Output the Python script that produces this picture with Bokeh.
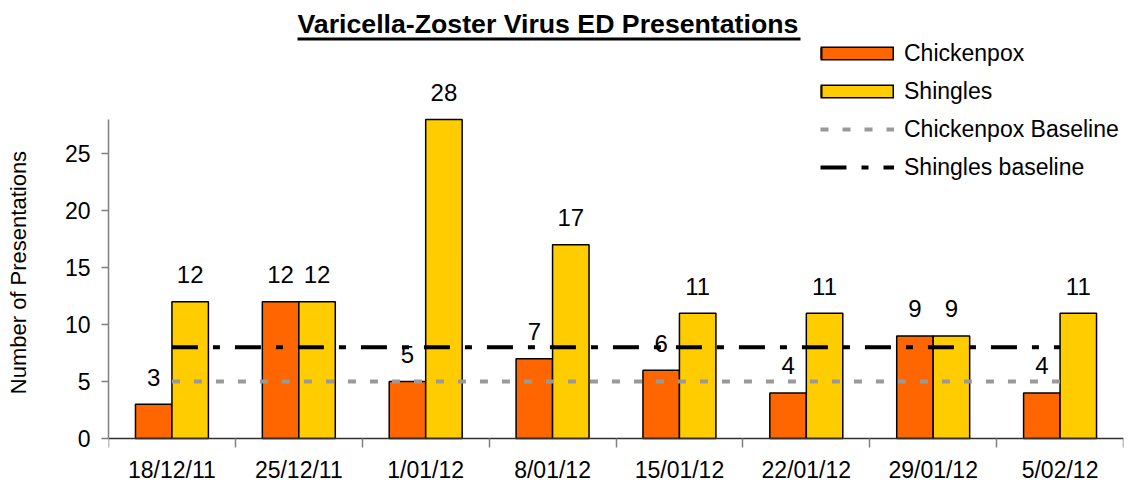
from bokeh.plotting import figure
from bokeh.models import (ColumnDataSource, Range1d, FixedTicker, LabelSet, Label,
                          BoxAnnotation, Legend, LegendItem)
from bokeh.core.properties import value
from bokeh.transform import dodge
from bokeh.embed import file_html
from bokeh.resources import INLINE

# ---- data ----
weeks = ["18/12/11", "25/12/11", "1/01/12", "8/01/12", "15/01/12", "22/01/12", "29/01/12", "5/02/12"]
chickenpox = [3, 12, 5, 7, 6, 4, 9, 4]
shingles = [12, 12, 28, 17, 11, 11, 9, 11]
chickenpox_baseline = 5
shingles_baseline = 8
y_ticks = [0, 5, 10, 15, 20, 25]
y_axis_max = 28

FONT = "Liberation Sans"
ORANGE = "#FF6600"
YELLOW = "#FFCC00"

W, H = 1136, 483
centers = [i + 0.5 for i in range(len(weeks))]
src = ColumnDataSource(dict(
    x=centers,
    cp=chickenpox,
    sh=shingles,
    cp_txt=[str(v) for v in chickenpox],
    sh_txt=[str(v) for v in shingles],
))
base_src = ColumnDataSource(dict(
    x=[centers[0], centers[-1]],
    cpb=[chickenpox_baseline] * 2,
    shb=[shingles_baseline] * 2,
))

# the frame fills the canvas height; the x axis sits at y=0 and the y axis is bounded 0..28
p = figure(width=W, height=H, output_backend="svg", toolbar_location=None,
           x_range=Range1d(0, len(weeks)), y_range=Range1d(-3.95, 38.44),
           min_border_left=108, min_border_right=13, min_border_top=0,
           min_border_bottom=0)
p.outline_line_color = None
p.xgrid.visible = False
p.ygrid.visible = False
p.background_fill_color = "white"
p.border_fill_color = "white"

BW = 0.2875
r_cp = p.vbar(x=dodge("x", -BW / 2, range=p.x_range), top="cp", width=BW, source=src,
              fill_color=ORANGE, line_color="black", line_width=1.5)
r_sh = p.vbar(x=dodge("x", BW / 2, range=p.x_range), top="sh", width=BW, source=src,
              fill_color=YELLOW, line_color="black", line_width=1.5)

r_cpb = p.line("x", "cpb", source=base_src, line_color="#999999", line_width=4,
               line_dash="8 14")
r_shb = p.line("x", "shb", source=base_src, line_color="black", line_width=4,
               line_dash="26 15 7 15")

# data labels
for col, off in (("cp", -BW / 2), ("sh", BW / 2)):
    ls = LabelSet(x=dodge("x", off, range=p.x_range), y=col, text=col + "_txt", source=src,
                  y_offset=27, text_align="center", text_baseline="middle",
                  text_font=value(FONT), text_font_size=value("24px"),
                  text_color=value("black"))
    p.add_layout(ls)

# axes
p.xaxis.fixed_location = 0
p.xaxis.ticker = FixedTicker(ticks=centers, minor_ticks=list(range(len(weeks) + 1)))
p.xaxis.major_label_overrides = {c: w for c, w in zip(centers, weeks)}
p.xaxis.major_tick_out = 0
p.xaxis.major_tick_in = 0
p.xaxis.minor_tick_out = 9
p.xaxis.minor_tick_in = 0
p.xaxis.minor_tick_line_color = "#808080"
p.xaxis.minor_tick_line_width = 1.5
p.xaxis.axis_line_color = "#303030"
p.xaxis.axis_line_width = 1.5
p.xaxis.major_label_standoff = 10
p.xaxis.major_label_text_font = FONT
p.xaxis.major_label_text_font_size = "23px"
p.xaxis.major_label_text_color = "black"

p.yaxis.bounds = (0, y_axis_max)
p.yaxis.ticker = FixedTicker(ticks=y_ticks)
p.yaxis.minor_tick_line_color = None
p.yaxis.major_tick_out = 7
p.yaxis.major_tick_in = 0
p.yaxis.major_tick_line_color = "#808080"
p.yaxis.major_tick_line_width = 1.5
p.yaxis.axis_line_color = "#808080"
p.yaxis.axis_line_width = 1.5
p.yaxis.major_label_standoff = 11
p.yaxis.major_label_text_font = FONT
p.yaxis.major_label_text_font_size = "23px"
p.yaxis.major_label_text_color = "black"
# trailing no-break spaces move the visible words down to sit beside the 0..28 axis
p.yaxis.axis_label = "Number of Presentations" + "\u00a0" * 10
p.yaxis.axis_label_text_font = FONT
p.yaxis.axis_label_text_font_size = "22px"
p.yaxis.axis_label_text_font_style = "normal"
p.yaxis.axis_label_text_color = "black"
p.yaxis.axis_label_standoff = 31

# title with underline (screen units, relative to the frame's bottom-left)
p.add_layout(Label(x=189, y=H - 23, x_units="screen", y_units="screen",
                   text="Varicella-Zoster Virus ED Presentations",
                   text_font=FONT, text_font_size="26.7px", text_font_style="bold",
                   text_align="left", text_baseline="middle", text_color="black"))
p.add_layout(BoxAnnotation(left=189, right=692, top=H - 37, bottom=H - 40,
                           left_units="screen", right_units="screen",
                           top_units="screen", bottom_units="screen",
                           fill_color="black", fill_alpha=1, line_color=None))

# legend swatches for the bars: an outlined box built from stacked line strokes
nan = float("nan")
empty = ColumnDataSource(dict(x=[nan], y=[nan]))
def swatch(color):
    edge = p.line("x", "y", source=empty, line_color="black", line_width=14)
    fill = p.line("x", "y", source=empty, line_color=color, line_width=11)
    ends = p.line("x", "y", source=empty, line_color="black", line_width=11,
                  line_dash="2 70 2 100")
    return [edge, fill, ends]

legend = Legend(items=[LegendItem(label="Chickenpox", renderers=swatch(ORANGE)),
                       LegendItem(label="Shingles", renderers=swatch(YELLOW)),
                       LegendItem(label="Chickenpox Baseline", renderers=[r_cpb]),
                       LegendItem(label="Shingles baseline", renderers=[r_shb])],
                location=(712, H - 181), glyph_width=74, glyph_height=28,
                label_height=28, spacing=10, label_standoff=10,
                padding=0, margin=0, border_line_color=None, background_fill_alpha=0,
                label_text_font=FONT, label_text_font_size="23px",
                label_text_color="black")
p.add_layout(legend)

open("out.html", "w").write(file_html(p, INLINE))
